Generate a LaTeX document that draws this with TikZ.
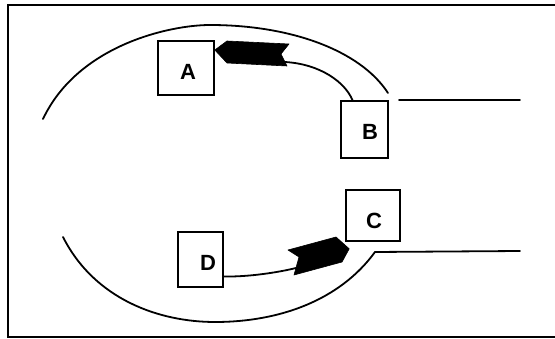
\documentclass[tikz,border=0pt]{standalone}
\usepackage{fontspec}
\setmainfont{Liberation Sans}
\begin{document}
\begin{tikzpicture}[x=1pt,y=-1pt,
  box/.style={draw,line width=1.6pt,inner sep=0pt},
  lbl/.style={inner sep=0pt,font=\fontsize{22}{22}\selectfont\bfseries},
  curve/.style={line width=1.8pt,line cap=round},
  blob/.style={fill=black,draw=black,line width=0.6pt,line join=round}]
\useasboundingbox (0,0) rectangle (555,339);
\draw[line width=2.2pt] (565,5) -- (8,5) -- (8,337) -- (565,337);
% boxes
\node[box,minimum width=56pt,minimum height=54pt] (A) at (186,68) {};
\node[box,minimum width=47pt,minimum height=57pt] (B) at (364.5,129.5) {};
\node[box,minimum width=54pt,minimum height=51pt] (C) at (373,215.5) {};
\node[box,minimum width=45pt,minimum height=55pt] (D) at (200.5,259.5) {};
\node[lbl] (Al) at (188,72) {A};
\node[lbl] (Bl) at (370,132) {B};
\node[lbl] (Cl) at (374,221) {C};
\node[lbl] (Dl) at (208,263) {D};
% outer arcs
\coordinate (t1) at (43,119);
\coordinate (t2) at (388,93);
\coordinate (b1) at (63,237);
\coordinate (b2) at (375,252);
\coordinate (r1) at (399,100);
\coordinate (r1e) at (520,100);
\coordinate (r2e) at (520,251);
\draw[curve] (t1) .. controls (78,45) and (170,25) .. (210,25)
  .. controls (290,25) and (360,50) .. (t2);
\draw[curve] (b1) .. controls (95,300) and (160,322) .. (215,322)
  .. controls (280,322) and (340,300) .. (b2) -- (r2e);
\draw[curve] (r1) -- (r1e);
% B -> A
\coordinate (Bs) at ([xshift=-12pt]B.north);
\coordinate (An) at (285,62);
\draw[curve] (Bs) .. controls (345,82) and (320,64) .. (An);
\fill[blob] ([yshift=18pt]A.east) -- (227,41) -- (289,44) -- (281,54) -- (287,66) -- (227,63) -- cycle;
% D -> C
\coordinate (Ds) at ([yshift=-17pt]D.east);
\coordinate (Cn) at (296,268);
\draw[curve] (Ds) .. controls (250,277) and (280,272) .. (Cn);
\fill[blob] (288,250) -- (299,257) -- (294,275) -- (342,262) -- ([xshift=4pt,yshift=-7pt]C.south west) -- (336,237) -- cycle;
\end{tikzpicture}
\end{document}
